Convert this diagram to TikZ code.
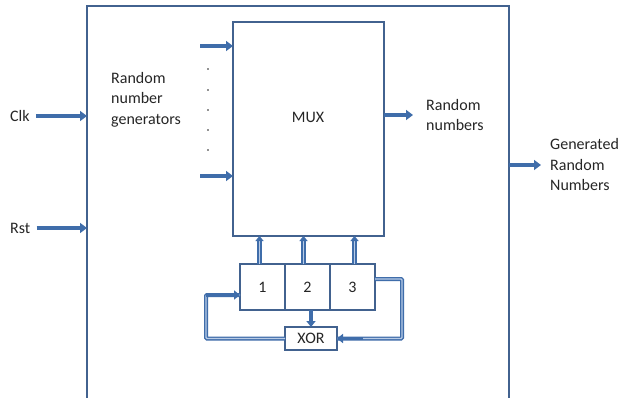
\documentclass[tikz,border=0pt]{standalone}
\usepackage{fontspec}
\setmainfont{Carlito}
\usetikzlibrary{arrows.meta,positioning}
\definecolor{boxline}{HTML}{42628F}
\definecolor{arrowblue}{HTML}{3F6DAA}
\definecolor{busfill}{HTML}{B8CBE6}
\definecolor{txt}{HTML}{262626}

\begin{document}
\begin{tikzpicture}[
    x=1pt, y=-1pt,
    node distance=0pt,
    blk/.style={draw=boxline, line width=1.3pt, fill=white, inner sep=0pt, outer sep=0pt},
    lbl/.style={font=\fontsize{16}{20.5}\selectfont, text=txt, align=left, inner sep=0pt},
    reg/.style={blk, lbl, align=center, minimum width=45pt, minimum height=46pt},
    arr/.style={-{Triangle[length=7pt,width=10pt]}, draw=arrowblue, line width=3.6pt},
    bus/.style={-{Triangle[length=5pt,width=8pt]}, draw=arrowblue, double=busfill, double distance=1.4pt, line width=1.5pt},
    fb/.style={draw=arrowblue, double=busfill, double distance=1.2pt, line width=1.4pt, rounded corners=1pt},
    fbtip/.style={-{Triangle[length=6pt,width=9pt]}, draw=arrowblue, line width=3.2pt}
  ]
    \useasboundingbox (0,0) rectangle (618,398);
    \clip (0,0) rectangle (618,398);

    % system box, open at the bottom
    \node[blk, minimum width=422pt, minimum height=430pt] (sys) at (298,221) {};
    \node[blk, minimum width=151pt, minimum height=214pt] (mux) at (308.5,129) {};
    \node[lbl] (muxlbl) at (308,117) {MUX};

    % shift register and feedback
    \node[reg] (r1) at (262.5,287) {1};
    \node[reg, right=of r1] (r2) {2};
    \node[reg, right=of r2] (r3) {3};
    \node[blk, lbl, align=center, minimum width=52pt, minimum height=23pt, below=17pt of r2, xshift=3.5pt] (xor) {XOR};

    % labels
    \node[lbl, anchor=west] (clk) at (10,116) {Clk};
    \node[lbl, anchor=west] (rst) at (10,228) {Rst};
    \node[lbl, anchor=north west] (rng) at (111,72) {Random\\number\\generators};
    \node[lbl, anchor=west] (rnum) at (426,115) {Random\\numbers};
    \node[lbl, anchor=west] (gen) at (550,165) {Generated\\Random\\Numbers};

    % generator inputs
    \coordinate (in1) at (200,46);
    \coordinate (in2) at (200,176);
    \draw[arr] (in1) -- (in1 -| mux.west);
    \draw[arr] (in2) -- (in2 -| mux.west);
    \foreach \y in {69,90,110,130,150}
      \fill[txt] (208,\y) circle (0.9pt);

    \draw[arr] ([xshift=6pt]clk.east) -- (clk.east -| sys.west);
    \draw[arr] ([xshift=6pt]rst.east) -- (rst.east -| sys.west);
    \draw[arr] (mux.east |- rnum.west) -- ([xshift=-13pt]rnum.west);
    \draw[arr] (sys.east |- gen.west) -- ([xshift=-9pt]gen.west);

    % register to mux
    \draw[bus] ([xshift=-3pt]r1.north) -- ([xshift=-3pt]r1.north |- mux.south);
    \draw[bus] ([xshift=-4pt]r2.north) -- ([xshift=-4pt]r2.north |- mux.south);
    \draw[bus] ([xshift=2pt]r3.north) -- ([xshift=2pt]r3.north |- mux.south);
    \draw[fbtip] (xor.north |- r2.south) -- (xor.north);

    \draw[fb] ([yshift=8pt]r3.east) -- ++(27,0) |- (xor.east);
    \draw[fbtip] ([xshift=26pt]xor.east) -- (xor.east);
    \draw[fb] (xor.west) -- ++(-79,0) |- ([yshift=-8pt]r1.west);
    \draw[fbtip] ([shift={(-34pt,-8pt)}]r1.west) -- ([yshift=-8pt]r1.west);
\end{tikzpicture}
\end{document}
